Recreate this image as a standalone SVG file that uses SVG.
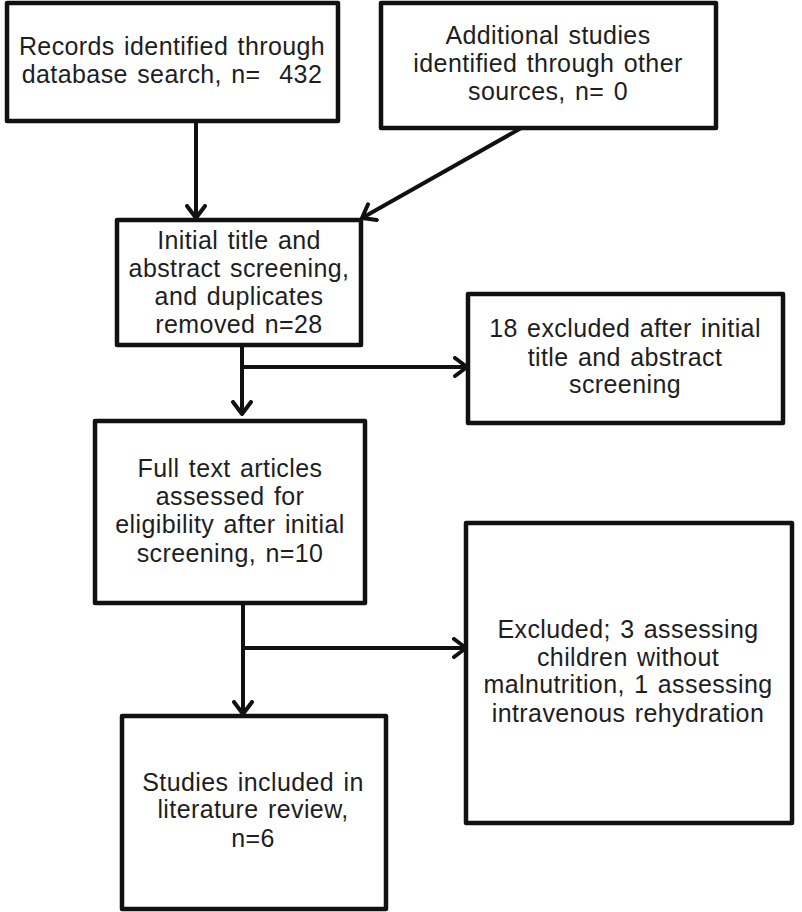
<svg xmlns="http://www.w3.org/2000/svg" width="802" height="912" viewBox="0 0 802 912">
<style>
.box{fill:#fff;stroke:#111;stroke-width:4.5;stroke-linejoin:round}
.t{font-family:"Liberation Sans",Arial,sans-serif;font-size:25px;fill:#1e1e1e;text-anchor:middle;letter-spacing:0.4px;word-spacing:2px}
.c{stroke:#111;stroke-width:4;fill:none;marker-end:url(#arr)}
</style>
<defs>
<marker id="arr" viewBox="0 0 16 22" refX="14" refY="11" markerWidth="16" markerHeight="22" markerUnits="userSpaceOnUse" orient="auto">
<path d="M2,2 L14,11 L2,20" fill="none" stroke="#111" stroke-width="4" stroke-linecap="round" stroke-linejoin="round"/>
</marker>
</defs>
<rect width="802" height="912" fill="#fff"/>
<g id="connectors">
<line class="c" x1="196" y1="111" x2="196" y2="218"/>
<line class="c" x1="523" y1="127" x2="362" y2="218"/>
<line class="c" x1="242" y1="345" x2="242" y2="414"/>
<line class="c" x1="242" y1="367" x2="467" y2="367"/>
<line class="c" x1="243" y1="603" x2="243" y2="714"/>
<line class="c" x1="243" y1="648" x2="466" y2="648"/>
</g>
<g id="n1">
<rect class="box" x="7" y="3" width="331" height="118"/>
<text class="t" x="172" y="55">Records identified through</text>
<text class="t" x="172" y="83">database search, n=&#160; 432</text>
</g>
<g id="n2">
<rect class="box" x="381" y="3" width="335" height="125"/>
<text class="t" x="548" y="44">Additional studies</text>
<text class="t" x="548" y="72">identified through other</text>
<text class="t" x="548" y="100">sources, n= 0</text>
</g>
<g id="n3">
<rect class="box" x="117" y="220" width="244" height="125"/>
<text class="t" x="239" y="249">Initial title and</text>
<text class="t" x="239" y="277">abstract screening,</text>
<text class="t" x="239" y="305">and duplicates</text>
<text class="t" x="239" y="333">removed n=28</text>
</g>
<g id="n4">
<rect class="box" x="468" y="294" width="315" height="129"/>
<text class="t" x="625" y="337">18 excluded after initial</text>
<text class="t" x="625" y="366">title and abstract</text>
<text class="t" x="625" y="393">screening</text>
</g>
<g id="n5">
<rect class="box" x="95" y="421" width="270" height="182"/>
<text class="t" x="230" y="477">Full text articles</text>
<text class="t" x="230" y="505">assessed for</text>
<text class="t" x="230" y="533">eligibility after initial</text>
<text class="t" x="230" y="562">screening, n=10</text>
</g>
<g id="n6">
<rect class="box" x="466" y="523" width="326" height="300"/>
<text class="t" x="628" y="638">Excluded; 3 assessing</text>
<text class="t" x="628" y="666">children without</text>
<text class="t" x="628" y="693">malnutrition, 1 assessing</text>
<text class="t" x="628" y="722">intravenous rehydration</text>
</g>
<g id="n7">
<rect class="box" x="122" y="716" width="264" height="193"/>
<text class="t" x="253" y="791">Studies included in</text>
<text class="t" x="253" y="818">literature review,</text>
<text class="t" x="253" y="847">n=6</text>
</g>
</svg>
